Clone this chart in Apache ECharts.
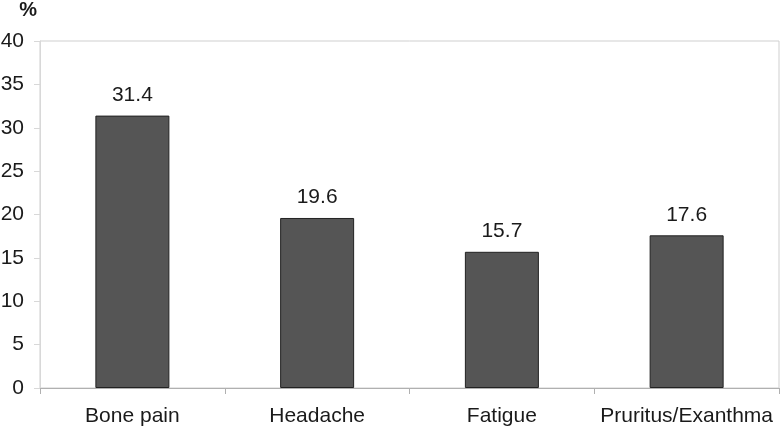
<!DOCTYPE html>
<html>
<head>
<meta charset="utf-8">
<script src="https://cdn.jsdelivr.net/npm/echarts@6/dist/echarts.min.js"></script>
<style>
  html, body { margin: 0; padding: 0; background: #fff; }
  #chart { width: 780px; height: 434px; }
</style>
</head>
<body>
<div id="chart"></div>
<script>
const categories = ['Bone pain', 'Headache', 'Fatigue', 'Pruritus/Exanthma']
const percents = [31.4, 19.6, 15.7, 17.6]
const yTicks = [0, 5, 10, 15, 20, 25, 30, 35, 40]

const font = 'Liberation Sans, Arial, sans-serif'
const chart = echarts.init(document.getElementById('chart'))

chart.setOption({
  animation: false,
  grid: {
    left: 40, right: 1, top: 41, bottom: 46,
    outerBoundsMode: 'none',
    show: true, borderColor: '#cfcfcf', borderWidth: 1
  },
  xAxis: {
    type: 'category',
    data: categories,
    axisLine: { lineStyle: { color: '#b0b0b0', width: 1 } },
    axisTick: { show: true, length: 6, lineStyle: { color: '#b0b0b0' } },
    axisLabel: { interval: 0, color: '#1a1a1a', fontFamily: font, fontSize: 21, margin: 18 }
  },
  yAxis: {
    type: 'value',
    min: yTicks[0],
    max: yTicks[yTicks.length - 1],
    interval: 5,
    name: '%',
    nameLocation: 'end',
    nameGap: 21,
    nameTextStyle: { color: '#1a1a1a', fontFamily: font, fontSize: 20, fontWeight: 'bold', align: 'right', padding: [0, 3, 0, 0] },
    axisLine: { show: true, lineStyle: { color: '#d8d8d8' } },
    axisTick: { show: true, length: 6, lineStyle: { color: '#d8d8d8' } },
    axisLabel: { color: '#1a1a1a', fontFamily: font, fontSize: 21, margin: 16 },
    splitLine: { show: false }
  },
  series: [{
    type: 'bar',
    data: percents,
    barWidth: 74,
    itemStyle: { color: '#555555', borderColor: '#222222', borderWidth: 1 },
    label: {
      show: true,
      position: 'top',
      distance: 10,
      color: '#1a1a1a',
      fontFamily: font,
      fontSize: 21,
      formatter: p => p.value.toFixed(1)
    }
  }]
})
</script>
</body>
</html>
